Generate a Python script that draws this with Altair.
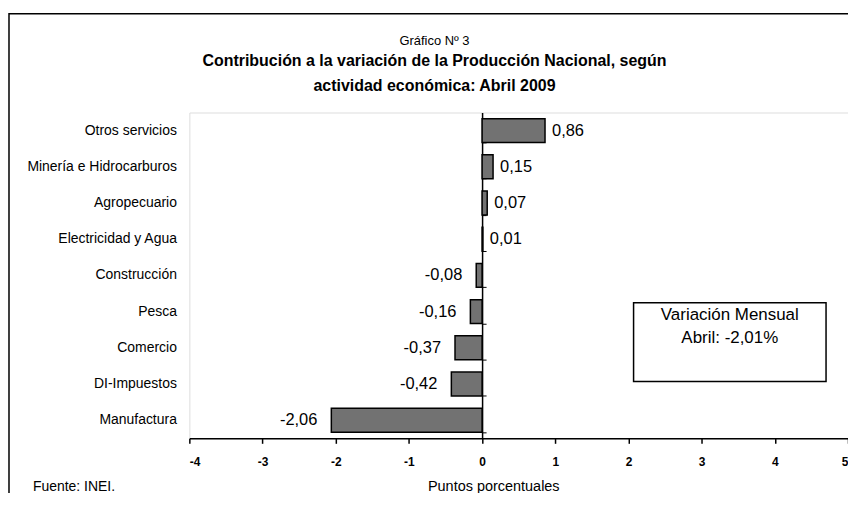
import altair as alt
import pandas as pd

categories = ["Otros servicios", "Minería e Hidrocarburos", "Agropecuario",
              "Electricidad y Agua", "Construcción", "Pesca", "Comercio",
              "DI-Impuestos", "Manufactura"]
values = [0.86, 0.15, 0.07, 0.01, -0.08, -0.16, -0.37, -0.42, -2.06]
x_ticks = [-4, -3, -2, -1, 0, 1, 2, 3, 4, 5]
x_title = "Puntos porcentuales"
title_small = "Gráfico Nº 3"
title_lines = ["Contribución a la variación de la Producción Nacional, según",
               "actividad económica: Abril 2009"]
note_lines = ["Variación Mensual", "Abril: -2,01%"]
note_box = [2.07, 4.70]
source_text = "Fuente: INEI."

FONT = "Liberation Sans"

W, H = 661, 327
ZERO_PX = W * 4 / 9

df = pd.DataFrame({"cat": categories, "v": values})
df["label"] = [f"{v:.2f}".replace(".", ",") for v in values]

x_scale = alt.Scale(domain=[-4, 5], nice=False, zero=False)
y_scale = alt.Scale(domain=categories, paddingInner=0.34, paddingOuter=0.17)

base = alt.Chart(df)

bars = base.mark_bar(fill="#727272", stroke="black", strokeWidth=1.5).encode(
    x=alt.X("v:Q", scale=x_scale,
            axis=alt.Axis(values=x_ticks, title=x_title, grid=False,
                          labelExpr="'' + datum.value",
                          domainColor="black", domainWidth=1.5,
                          tickColor="black", tickSize=5, tickWidth=1.5,
                          labelFont=FONT, labelFontSize=12, labelFontWeight="bold",
                          labelColor="black", labelPadding=13,
                          titleFont=FONT, titleFontSize=14.5, titleFontWeight="normal",
                          titleColor="black", titleX=305, titleY=48,
                          titleBaseline="middle", titleAlign="center")),
    x2=alt.datum(0),
    y=alt.Y("cat:N", scale=y_scale, sort=categories,
            axis=alt.Axis(title=None, domain=False, ticks=False,
                          labelFont=FONT, labelFontSize=14, labelColor="black",
                          labelPadding=13, labelLimit=300)),
)

pos = base.transform_filter("datum.v >= 0").mark_text(
    align="left", baseline="middle", dx=7, font=FONT, fontSize=16.5, color="black"
).encode(
    x=alt.X("v:Q", scale=x_scale),
    y=alt.Y("cat:N", scale=y_scale, sort=categories,
            axis=alt.Axis(orient="right", offset=-(W - ZERO_PX), title=None,
                          labels=False, domain=True, domainColor="black",
                          domainWidth=1.5, ticks=True, tickColor="black",
                          tickSize=4, tickWidth=1, tickBand="extent")),
    text="label:N",
)

neg = base.transform_filter("datum.v < 0").mark_text(
    align="right", baseline="middle", dx=-14, font=FONT, fontSize=16.5, color="black"
).encode(
    x=alt.X("v:Q", scale=x_scale),
    y=alt.Y("cat:N", scale=y_scale, sort=categories, axis=None),
    text="label:N",
)

box_df = pd.DataFrame({"x0": [note_box[0]], "x1": [note_box[1]]})
box = alt.Chart(box_df).mark_rect(fill="white", stroke="black", strokeWidth=1.5).encode(
    x=alt.X("x0:Q", scale=x_scale), x2="x1:Q",
    y=alt.value(191), y2=alt.value(270),
)

note_df = pd.DataFrame({"t": note_lines, "i": list(range(len(note_lines)))})
note_df["xc"] = (note_box[0] + note_box[1]) / 2
note = alt.Chart(note_df).mark_text(font=FONT, fontSize=17, color="black",
                                    baseline="middle").encode(
    x=alt.X("xc:Q", scale=x_scale),
    y=alt.Y("i:Q", scale=alt.Scale(domain=[0, 1], range=[203, 226]), axis=None),
    text="t:N",
)

one = pd.DataFrame({"a": [0]})
frame = alt.Chart(one).mark_rect(fill=None, stroke="black", strokeWidth=1.5).encode(
    x=alt.value(-181), x2=alt.value(720), y=alt.value(-99), y2=alt.value(700)
)

t_small = alt.Chart(pd.DataFrame({"t": [title_small]})).mark_text(
    font=FONT, fontSize=13, color="black", baseline="middle"
).encode(x=alt.value(246), y=alt.value(-72), text="t:N")

t_df = pd.DataFrame({"t": title_lines, "i": list(range(len(title_lines)))})
t_main = alt.Chart(t_df).mark_text(
    font=FONT, fontSize=16, fontWeight="bold", color="black", baseline="middle"
).encode(
    x=alt.value(246),
    y=alt.Y("i:Q", scale=alt.Scale(domain=[0, 1], range=[-52, -27]), axis=None),
    text="t:N",
)

src = alt.Chart(pd.DataFrame({"t": [source_text]})).mark_text(
    font=FONT, fontSize=14, color="black", align="left", baseline="middle"
).encode(x=alt.value(-157), y=alt.value(376), text="t:N")

chart = alt.layer(bars, pos, neg, box, note, frame, t_small, t_main, src).resolve_axis(
    y="independent"
).resolve_scale(y="independent").properties(
    width=W, height=H,
    autosize=alt.AutoSizeParams(type="none"),
    padding={"left": 182, "top": 104, "right": 0, "bottom": 54},
).configure_view(stroke="#888888", strokeWidth=1.5).configure(background="white")

chart.save("out.html", embed_options={"renderer": "svg", "actions": False})
